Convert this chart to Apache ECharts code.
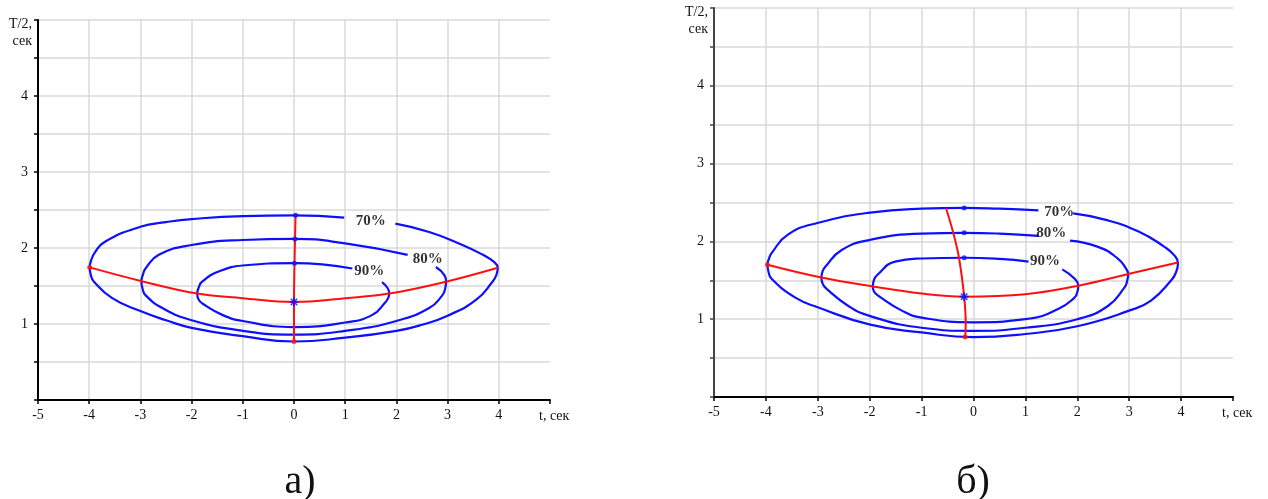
<!DOCTYPE html>
<html>
<head>
<meta charset="utf-8">
<script src="https://cdn.jsdelivr.net/npm/echarts@6/dist/echarts.min.js"></script>
<style>
  html, body { margin: 0; padding: 0; background: #ffffff; }
  #chart { width: 1268px; height: 499px; }
</style>
</head>
<body>
<div id="chart"></div>
<script>
// ---- panel а): symmetric case ----
// closed contours, each listed from the end of its label gap round to the start of it
const contour70A = [[1.98,2.32],[2.64,2.21],[3.29,2.04],[3.69,1.91],[3.90,1.82],[3.98,1.74],[3.95,1.64],[3.88,1.56],[3.56,1.32],[3.0,1.11],[2.5,0.99],[2.0,0.91],[1.0,0.82],[0,0.77],[-1.0,0.84],[-2.0,0.95],[-2.5,1.05],[-3.0,1.17],[-3.55,1.34],[-3.91,1.56],[-3.97,1.65],[-3.99,1.745],[-3.96,1.84],[-3.89,1.94],[-3.70,2.08],[-3.0,2.28],[-2.5,2.34],[-2.0,2.38],[-1.0,2.42],[0,2.43],[0.98,2.40]];
const contour80A = [[2.77,1.75],[2.94,1.64],[2.97,1.557],[2.95,1.46],[2.90,1.38],[2.64,1.21],[2.0,1.04],[1.0,0.91],[0,0.86],[-1.0,0.91],[-2.0,1.05],[-2.57,1.21],[-2.90,1.38],[-2.96,1.47],[-2.98,1.557],[-2.95,1.65],[-2.90,1.73],[-2.64,1.91],[-2.0,2.04],[-1.0,2.105],[0,2.12],[1.0,2.06],[2.22,1.91]];
const contour90A = [[1.72,1.55],[1.83,1.47],[1.86,1.40],[1.83,1.33],[1.79,1.29],[1.53,1.12],[1.0,1.02],[0,0.96],[-1.0,1.04],[-1.40,1.12],[-1.79,1.27],[-1.87,1.33],[-1.89,1.40],[-1.86,1.48],[-1.79,1.56],[-1.47,1.69],[-1.0,1.77],[0,1.80],[0.55,1.785],[1.14,1.73]];
const ridgeHA = [[-3.99,1.745],[-3.01,1.57],[-1.89,1.40],[-1.01,1.34],[0,1.29],[1.01,1.34],[1.86,1.40],[2.97,1.557],[3.98,1.74]];
const ridgeVA = [[0.03,2.43],[0.02,2.12],[0.01,1.80],[0,1.29],[0,0.77]];
const topDotsA = [[0.03,2.43],[0.02,2.12],[0.01,1.80]];
const endDotsA = [[-3.99,1.745],[0,0.77]];
const centerA = [[0,1.29]];
const labelsA = [[1.50,2.35,'70%'],[2.61,1.85,'80%'],[1.47,1.70,'90%']];

// ---- panel б): shifted case ----
const contour70B = [[1.92,2.36],[2.53,2.28],[3.17,2.13],[3.68,1.93],[3.87,1.82],[3.94,1.72],[3.90,1.60],[3.81,1.50],[3.42,1.24],[3.0,1.11],[2.0,0.91],[1.0,0.81],[0,0.77],[-1.0,0.83],[-1.99,0.93],[-2.99,1.15],[-3.44,1.28],[-3.89,1.52],[-3.95,1.61],[-3.97,1.70],[-3.94,1.78],[-3.89,1.85],[-3.57,2.09],[-2.99,2.24],[-1.99,2.37],[-1.0,2.42],[-0.18,2.43],[0.5,2.42],[1.25,2.40]];
const contour80B = [[1.86,2.01],[2.40,1.93],[2.78,1.78],[2.94,1.65],[2.98,1.58],[2.96,1.49],[2.91,1.41],[2.59,1.17],[2.0,1.0],[1.0,0.89],[0,0.85],[-1.0,0.89],[-1.99,1.04],[-2.41,1.17],[-2.83,1.39],[-2.91,1.46],[-2.93,1.535],[-2.91,1.61],[-2.86,1.67],[-2.54,1.89],[-1.99,2.02],[-1.0,2.10],[-0.18,2.11],[0.5,2.10],[1.25,2.07]];
const contour90B = [[1.71,1.64],[1.95,1.52],[2.02,1.43],[2.00,1.35],[1.95,1.28],[1.63,1.13],[1.0,1.0],[0,0.96],[-1.0,1.02],[-1.38,1.11],[-1.83,1.30],[-1.92,1.36],[-1.94,1.42],[-1.92,1.50],[-1.86,1.565],[-1.51,1.74],[-1.0,1.78],[-0.18,1.79],[0.5,1.775],[1.06,1.74]];
const ridgeHB = [[-3.97,1.70],[-2.93,1.535],[-1.94,1.42],[-1.0,1.33],[-0.18,1.29],[1.0,1.32],[2.02,1.43],[2.98,1.58],[3.94,1.73]];
const ridgeVB = [[-0.53,2.43],[-0.39,2.11],[-0.28,1.79],[-0.18,1.29],[-0.15,0.94],[-0.16,0.77]];
const topDotsB = [[-0.18,2.43],[-0.18,2.11],[-0.18,1.79]];
const endDotsB = [[-3.97,1.70],[-0.16,0.77]];
const centerB = [[-0.18,1.29]];
const labelsB = [[1.65,2.38,'70%'],[1.50,2.10,'80%'],[1.38,1.75,'90%']];

// ---- axes ----
const xMin = -5, xMax = 5, xStep = 1;
const yMin = 0, yMax = 5, yStep = 0.5;
const yLabelValues = [1, 2, 3, 4];
const xName = 't, сек';
const yName = 'T/2,\nсек';
const captions = ['а)', 'б)'];

const SERIF = '"Liberation Serif", "Times New Roman", serif';
const BLUE = '#0f0fff';
const RED = '#ff1010';

const plusPath = 'path://M-1,-0.18L1,-0.18L1,0.18L-1,0.18Z M-0.18,-1L0.18,-1L0.18,1L-0.18,1Z';

function xAxisCfg(gridIndex, lineColor) {
  return {
    type: 'value', gridIndex, min: xMin, max: xMax, interval: xStep,
    name: xName, nameLocation: 'end', nameGap: -11,
    nameTextStyle: { fontFamily: SERIF, fontSize: 14, color: '#111', verticalAlign: 'top', padding: [9, 0, 0, 0] },
    axisLine: { onZero: false, lineStyle: { color: lineColor, width: 2 } },
    axisTick: { show: true, length: 4, lineStyle: { color: lineColor, width: 1.5 } },
    axisLabel: {
      fontFamily: SERIF, fontSize: 14, color: '#111', margin: 8,
      formatter: v => (v === xMax ? '' : String(v))
    },
    splitLine: { show: true, showMinLine: false, showMaxLine: false, lineStyle: { color: '#d8d8d8', width: 1.5 } }
  };
}

function yAxisCfg(gridIndex, lineColor) {
  return {
    type: 'value', gridIndex, min: yMin, max: yMax, interval: yStep,
    name: yName, nameLocation: 'end', nameGap: 4,
    nameTextStyle: { fontFamily: SERIF, fontSize: 14, color: '#111', align: 'right', verticalAlign: 'top', lineHeight: 17, padding: [0, 6, 0, 0] },
    axisLine: { onZero: false, lineStyle: { color: lineColor, width: 2 } },
    axisTick: { show: true, length: 4, lineStyle: { color: lineColor, width: 1.5 } },
    axisLabel: {
      fontFamily: SERIF, fontSize: 14, color: '#111', margin: 10,
      formatter: v => (yLabelValues.includes(v) ? String(v) : '')
    },
    splitLine: { show: true, showMinLine: false, lineStyle: { color: '#d8d8d8', width: 1.5 } }
  };
}

function panelSeries(idx, c70, c80, c90, rh, rv, topDots, endDots, center, labels) {
  const ax = { xAxisIndex: idx, yAxisIndex: idx };
  const contour = data => Object.assign({
    type: 'line', data, symbol: 'none', smooth: 0.5, silent: true,
    lineStyle: { color: BLUE, width: 2.2 }, z: 3
  }, ax);
  return [
    contour(c70), contour(c80), contour(c90),
    Object.assign({ type: 'line', data: rh, symbol: 'none', smooth: 0.4, silent: true,
      lineStyle: { color: RED, width: 2 }, z: 4 }, ax),
    Object.assign({ type: 'line', data: rv, symbol: 'none', smooth: 0.4, silent: true,
      lineStyle: { color: RED, width: 2 }, z: 4 }, ax),
    Object.assign({ type: 'scatter', data: topDots, symbol: 'circle', symbolSize: 5,
      itemStyle: { color: BLUE }, z: 5, silent: true }, ax),
    Object.assign({ type: 'scatter', data: endDots, symbol: 'circle', symbolSize: 5,
      itemStyle: { color: RED }, z: 5, silent: true }, ax),
    Object.assign({ type: 'scatter', data: center, symbol: plusPath, symbolSize: 9,
      itemStyle: { color: BLUE }, z: 6, silent: true }, ax),
    Object.assign({ type: 'scatter', data: center, symbol: plusPath, symbolSize: 9, symbolRotate: 45,
      itemStyle: { color: BLUE }, z: 6, silent: true }, ax),
    Object.assign({ type: 'scatter', data: labels, symbolSize: 0, silent: true, z: 7,
      label: { show: true, position: 'inside', formatter: p => p.value[2],
        fontFamily: SERIF, fontSize: 15, fontWeight: 'bold', color: '#000' } }, ax)
  ];
}

const chart = echarts.init(document.getElementById('chart'), null, { renderer: 'canvas' });
chart.setOption({
  animation: false,
  backgroundColor: '#ffffff',
  grid: [
    { left: 38, top: 20, width: 512, height: 380 },
    { left: 714, top: 8, width: 519, height: 389 }
  ],
  xAxis: [xAxisCfg(0, '#000'), xAxisCfg(1, '#000')],
  yAxis: [yAxisCfg(0, '#000'), yAxisCfg(1, '#444')],
  title: [
    { text: captions[0], left: 295, top: 457, textAlign: 'center',
      textStyle: { fontFamily: SERIF, fontSize: 40, fontWeight: 'normal', color: '#111' } },
    { text: captions[1], left: 968, top: 457, textAlign: 'center',
      textStyle: { fontFamily: SERIF, fontSize: 40, fontWeight: 'normal', color: '#111' } }
  ],
  series: [].concat(
    panelSeries(0, contour70A, contour80A, contour90A, ridgeHA, ridgeVA, topDotsA, endDotsA, centerA, labelsA),
    panelSeries(1, contour70B, contour80B, contour90B, ridgeHB, ridgeVB, topDotsB, endDotsB, centerB, labelsB)
  )
});
</script>
</body>
</html>
